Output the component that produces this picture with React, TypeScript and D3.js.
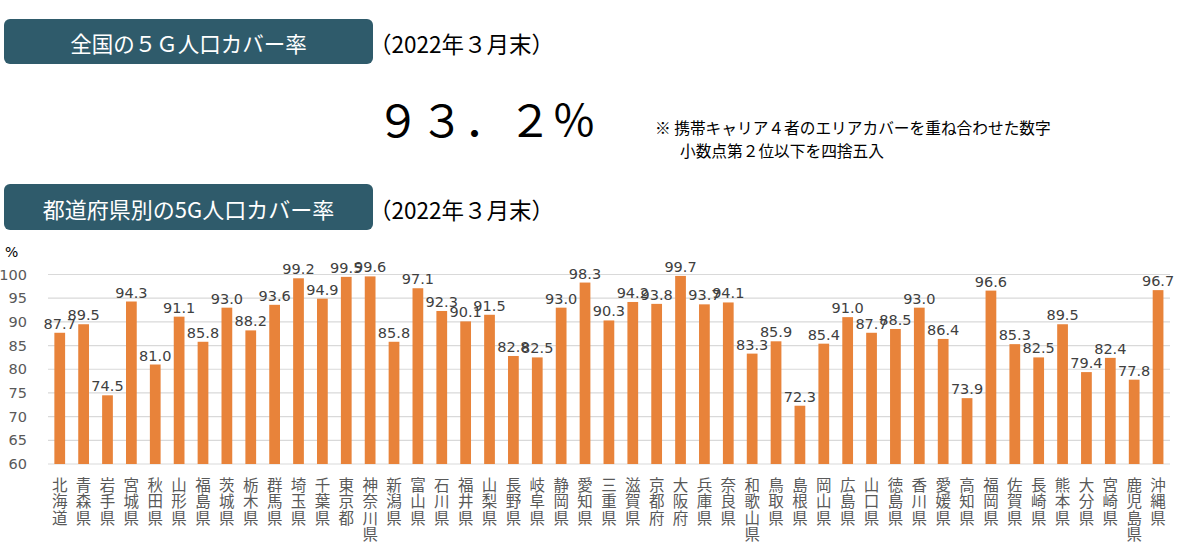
import React from "react";
import * as d3 from "d3";

const prefectures = [
  "北海道", "青森県", "岩手県", "宮城県", "秋田県", "山形県", "福島県", "茨城県", "栃木県", "群馬県",
  "埼玉県", "千葉県", "東京都", "神奈川県", "新潟県", "富山県", "石川県", "福井県", "山梨県", "長野県",
  "岐阜県", "静岡県", "愛知県", "三重県", "滋賀県", "京都府", "大阪府", "兵庫県", "奈良県", "和歌山県",
  "鳥取県", "島根県", "岡山県", "広島県", "山口県", "徳島県", "香川県", "愛媛県", "高知県", "福岡県",
  "佐賀県", "長崎県", "熊本県", "大分県", "宮崎県", "鹿児島県", "沖縄県",
];

const coverage = [
  87.7, 89.5, 74.5, 94.3, 81.0, 91.1, 85.8, 93.0, 88.2, 93.6,
  99.2, 94.9, 99.5, 99.6, 85.8, 97.1, 92.3, 90.1, 91.5, 82.8,
  82.5, 93.0, 98.3, 90.3, 94.2, 93.8, 99.7, 93.7, 94.1, 83.3,
  85.9, 72.3, 85.4, 91.0, 87.7, 88.5, 93.0, 86.4, 73.9, 96.6,
  85.3, 82.5, 89.5, 79.4, 82.4, 77.8, 96.7,
];

const yTicks = [60, 65, 70, 75, 80, 85, 90, 95, 100];

const nationalTitle = "全国の５Ｇ人口カバー率";
const prefTitle = "都道府県別の5G人口カバー率";
const dateLabel = "（2022年３月末）";
const nationalValue = "９３．２％";
const noteLines = ["※ 携帯キャリア４者のエリアカバーを重ね合わせた数字", "小数点第２位以下を四捨五入"];

const CJK = "'Noto Sans CJK JP', 'Noto Sans', sans-serif";
const NUM = "'DejaVu Sans', Verdana, sans-serif";

export default function App() {
  const W = 1180;
  const H = 549;
  const left = 47.8;
  const right = 1170;
  const y = d3.scaleLinear().domain([60, 100]).range([464, 274.5]);
  const x = d3
    .scaleBand<string>()
    .domain(prefectures)
    .range([left, right])
    .paddingInner(0.55)
    .paddingOuter(0.275);

  const boxColor = "#2F5B6B";
  const barColor = "#E8833A";

  return (
    <svg
      width={W}
      height={H}
      viewBox={`0 0 ${W} ${H}`}
      style={{ position: "absolute", left: 0, top: 0, background: "#fff" }}
    >
      {/* Header box 1 */}
      <rect x={4} y={19} width={369} height={45} rx={6} fill={boxColor} />
      <text
        x={188.5}
        y={42}
        textAnchor="middle"
        dominantBaseline="central"
        fill="#fff"
        fontFamily={CJK}
        fontSize={21.5}
      >
        {nationalTitle}
      </text>
      <text x={369} y={43} dominantBaseline="central" fill="#000" fontFamily={CJK} fontSize={22.5}>
        {dateLabel}
      </text>

      {/* National value */}
      <text x={376} y={137} fill="#000" fontFamily={CJK} fontSize={44}>
        {nationalValue}
      </text>
      <text x={655} y={134} fill="#000" fontFamily={CJK} fontSize={15.7}>
        {noteLines[0]}
      </text>
      <text x={680} y={157} fill="#000" fontFamily={CJK} fontSize={15.7}>
        {noteLines[1]}
      </text>

      {/* Header box 2 */}
      <rect x={4} y={184} width={369} height={46} rx={6} fill={boxColor} />
      <text
        x={188.5}
        y={207.5}
        textAnchor="middle"
        dominantBaseline="central"
        fill="#fff"
        fontFamily={CJK}
        fontSize={22}
      >
        {prefTitle}
      </text>
      <text x={369} y={209} dominantBaseline="central" fill="#000" fontFamily={CJK} fontSize={22.5}>
        {dateLabel}
      </text>

      {/* Unit */}
      <text x={5} y={257} fill="#000" fontFamily={NUM} fontSize={14}>
        %
      </text>

      {/* Grid + y ticks */}
      {yTicks.map((t) => (
        <g key={t}>
          <line x1={48} x2={right} y1={y(t)} y2={y(t)} stroke="#D9D9D9" strokeWidth={1.2} />
          <text
            x={27}
            y={y(t)}
            textAnchor="end"
            dominantBaseline="central"
            fill="#595959"
            fontFamily={NUM}
            fontSize={14.5}
          >
            {t}
          </text>
        </g>
      ))}

      {/* Bars */}
      {prefectures.map((p, i) => {
        const v = coverage[i];
        const bx = x(p)!;
        const bw = x.bandwidth();
        return (
          <g key={p}>
            <rect x={bx} y={y(v)} width={bw} height={y(60) - y(v)} fill={barColor} />
            <text
              x={bx + bw / 2}
              y={y(v) - 4}
              textAnchor="middle"
              fill="#404040"
              fontFamily={NUM}
              fontSize={14.5}
            >
              {v.toFixed(1)}
            </text>
            <text
              x={bx + bw / 2}
              y={477}
              fill="#595959"
              fontFamily={CJK}
              fontSize={15.5}
              letterSpacing={1}
              style={{ writingMode: "vertical-rl" }}
            >
              {p}
            </text>
          </g>
        );
      })}
    </svg>
  );
}
